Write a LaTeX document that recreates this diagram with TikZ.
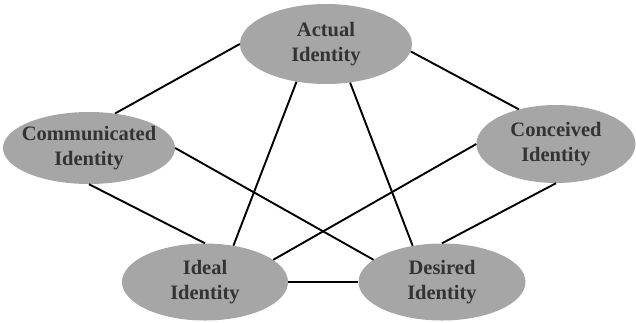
\documentclass[tikz,border=0pt]{standalone}
\usepackage{fontspec}
\setmainfont{Liberation Serif}
\usetikzlibrary{shapes.geometric}
\definecolor{idfill}{HTML}{A6A6A6}
\definecolor{idink}{HTML}{333333}
\begin{document}
\begin{tikzpicture}[x=1pt,y=-1pt,
  identity/.style={ellipse, fill=idfill, draw=none, inner sep=0pt},
  idtext/.style={align=center, text=idink, font=\fontsize{20.5}{25.5}\selectfont\bfseries},
  link/.style={draw=black, line width=1.9pt}]
\useasboundingbox (0,0) rectangle (636,322);
\node [identity, minimum width=172pt, minimum height=80pt,
  label={[idtext]center:{Actual\\Identity}}] (act) at (326,44) {};
\node [identity, minimum width=172pt, minimum height=72pt,
  label={[idtext]center:{Communicated\\Identity}}] (comm) at (89,148) {};
\node [identity, minimum width=159pt, minimum height=78pt,
  label={[idtext]center:{Conceived\\Identity}}] (conc) at (556,144) {};
\node [identity, minimum width=166pt, minimum height=77pt,
  label={[idtext]center:{Ideal\\Identity}}] (ideal) at (205,282) {};
\node [identity, minimum width=167pt, minimum height=77pt,
  label={[idtext]center:{Desired\\Identity}}] (des) at (442,282) {};
% links
\draw [link] (act.west) -- (comm.53);
\draw [link] (act.-5) -- (conc.137);
\draw [link] (act.232) -- (ideal.52);
\draw [link] (act.302) -- (des.129);
\draw [link] (comm.south) -- (ideal.north);
\draw [link] (comm.east) -- (des.162);
\draw [link] (conc.west) -- (ideal.18);
\draw [link] (conc.south) -- (des.north);
\draw [link] (ideal.east) -- (des.west);
\end{tikzpicture}
\end{document}
